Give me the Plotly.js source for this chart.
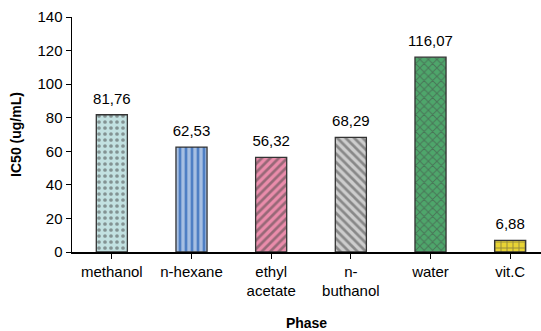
<!DOCTYPE html>
<html><head><meta charset="utf-8">
<script src="https://cdn.plot.ly/plotly-3.0.1.min.js"></script>
<style>html,body{margin:0;padding:0;background:#fff}</style>
</head><body><div id="c" style="width:541px;height:331px"></div>
<script>
const categories = ["methanol","n-hexane","ethyl<br>acetate","n-<br>buthanol","water","vit.C"];
const values = [81.76, 62.53, 56.32, 68.29, 116.07, 6.88];
const labels = ["81,76","62,53","56,32","68,29","116,07","6,88"];
const yTicks = [0,20,40,60,80,100,120,140];

const bgColors = ["#c2e1e1","#4f7fc4","#ea8cab","#cdcdcd","#4ea66b","#e8d434"];
const fgColors = ["#e6cbd3","#f3e24e","#ffffff","#ffffff","#ffffff","#fff4b0"];
const shapes = [".","|","/","\\","x","+"];
const solid = [0.3,0.55,0.45,0.45,0.3,0.3];
const xs = [0,1,2,3,4,5];
const FONT = "Liberation Sans, Arial, sans-serif";

const bars = {
  type:"bar", x:xs, y:values, width:0.39,
  marker:{color:bgColors, line:{color:"#333", width:1.3},
    pattern:{shape:shapes, fgcolor:fgColors, bgcolor:bgColors, size:6, solidity:solid, fillmode:"overlay"}},
  hoverinfo:"none"
};
const txt = {
  type:"scatter", mode:"text+markers", x:xs, y:values, text:labels, textposition:"top center",
  marker:{size:10, opacity:0}, cliponaxis:false,
  textfont:{family:FONT, size:15, color:"#000"}, hoverinfo:"none"
};
const layout = {
  width:541, height:331, margin:{l:72,r:0,t:17,b:79},
  paper_bgcolor:"#fff", plot_bgcolor:"#fff", showlegend:false,
  font:{family:FONT, size:15, color:"#000"},
  xaxis:{range:[-0.5,5.387], tickmode:"array", tickvals:xs, ticktext:categories,
    tickson:"boundaries", ticks:"outside", ticklen:5, tickcolor:"#000", showline:true, linecolor:"#000", linewidth:1.5,
    showgrid:false, zeroline:false, tickfont:{size:15},
    title:{text:"<b>Phase</b>", font:{size:14}, standoff:20}},
  yaxis:{range:[0,140], tickmode:"array", tickvals:yTicks, ticks:"outside", ticklen:5, tickcolor:"#000",
    showline:true, linecolor:"#000", linewidth:1.5, showgrid:false, zeroline:false, tickfont:{size:15},
    title:{text:"<b>IC50 (ug/mL)</b>", font:{size:14}, standoff:12}}
};
Plotly.newPlot("c",[bars,txt],layout,{displayModeBar:false,staticPlot:true});
</script></body></html>
